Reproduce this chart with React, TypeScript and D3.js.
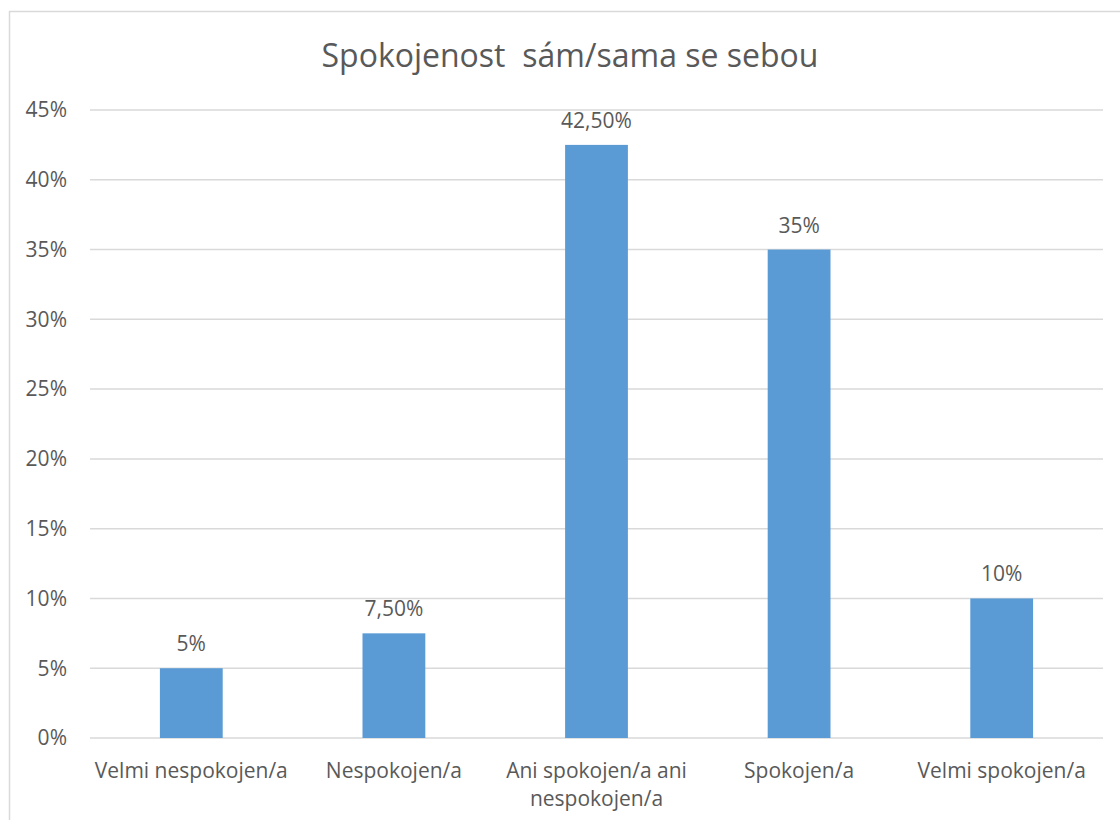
import React from "react";
import * as d3 from "d3";

const categories = ["Velmi nespokojen/a", "Nespokojen/a", "Ani spokojen/a ani nespokojen/a", "Spokojen/a", "Velmi spokojen/a"];
const categoryLines = [["Velmi nespokojen/a"], ["Nespokojen/a"], ["Ani spokojen/a ani", "nespokojen/a"], ["Spokojen/a"], ["Velmi spokojen/a"]];
const values = [5, 7.5, 42.5, 35, 10];
const valueLabels = ["5%", "7,50%", "42,50%", "35%", "10%"];
const yTicks = [0, 5, 10, 15, 20, 25, 30, 35, 40, 45];
const title = "Spokojenost  sám/sama se sebou";

export default function App() {
  const W = 1120, H = 820;
  const left = 90, right = 1103, top = 110, bottom = 738;
  const x = d3.scaleBand<string>().domain(categories).range([left, right]).paddingInner(0.69).paddingOuter(0.345);
  const y = d3.scaleLinear().domain([0, 45]).range([bottom, top]);
  const font = "'Open Sans', sans-serif";
  const txt = "#595959";
  return (
    <svg width={W} height={H} style={{ position: "absolute", left: 0, top: 0, background: "#fff" }} fontFamily={font}>
      <rect x={9.5} y={11.5} width={W} height={H} fill="#fff" stroke="#d9d9d9" strokeWidth={1.5} />
      <text x={570} y={67} textAnchor="middle" fontSize={32} fill={txt} style={{ whiteSpace: "pre" }}>{title}</text>
      {yTicks.map((t) => (
        <g key={t}>
          <line x1={left} x2={right} y1={y(t)} y2={y(t)} stroke="#d9d9d9" strokeWidth={1.5} />
          <text x={67} y={y(t)} dy="0.35em" textAnchor="end" fontSize={21} fill={txt}>{t}%</text>
        </g>
      ))}
      {categories.map((c, i) => (
        <g key={c}>
          <rect x={x(c)} y={y(values[i])} width={x.bandwidth()} height={y(0) - y(values[i])} fill="#5b9bd5" />
          <text x={(x(c) as number) + x.bandwidth() / 2} y={y(values[i]) - 17} textAnchor="middle" fontSize={21} fill={txt}>{valueLabels[i]}</text>
          {categoryLines[i].map((l, j) => (
            <text key={j} x={(x(c) as number) + x.bandwidth() / 2} y={778 + j * 28} textAnchor="middle" fontSize={21} fill={txt}>{l}</text>
          ))}
        </g>
      ))}
    </svg>
  );
}
